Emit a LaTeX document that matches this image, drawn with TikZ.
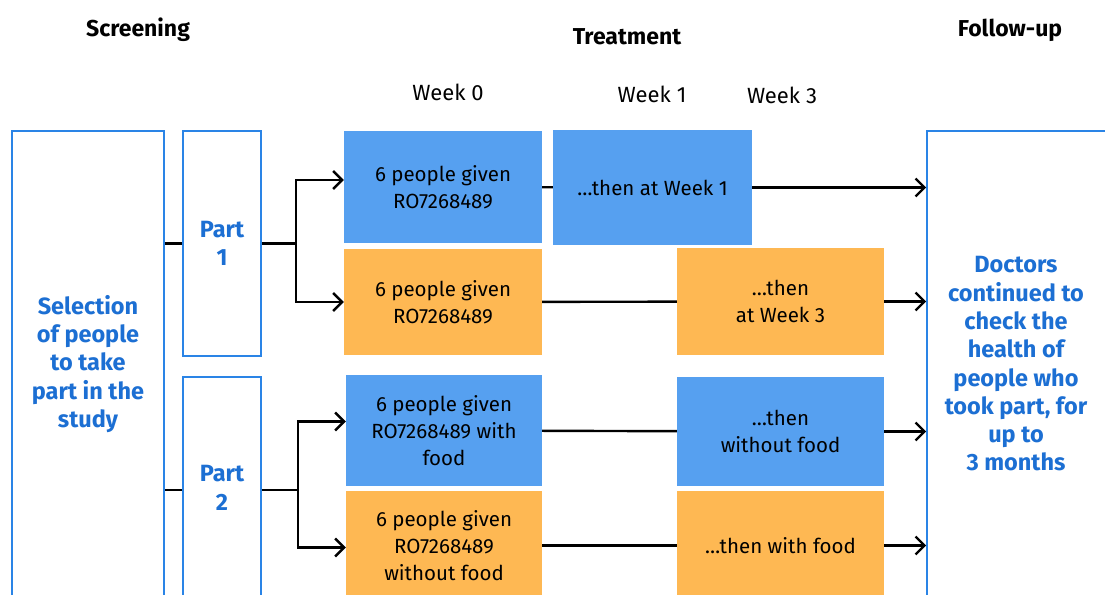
\documentclass[tikz,border=0pt]{standalone}
\usepackage{fontspec}
\setmainfont{Fira Sans}
\usepackage{xcolor}
\usetikzlibrary{arrows.meta}
\definecolor{outline}{HTML}{2A84E6}
\definecolor{bluetext}{HTML}{1C6FD3}
\definecolor{bluefill}{HTML}{56A0F0}
\definecolor{orangefill}{HTML}{FEB853}
\tikzset{
  frame/.style={draw=outline, line width=1.6pt, fill=white, inner sep=0pt},
  bluebox/.style={fill=bluefill, inner sep=0pt, align=center, font=\fontsize{20.5}{27}\selectfont},
  orangebox/.style={fill=orangefill, inner sep=0pt, align=center, font=\fontsize{20.5}{27}\selectfont},
  link/.style={draw=black, line width=2.4pt},
  arr/.style={link, -{Straight Barb[length=9pt,width=18pt]}},
  blbl/.style={text=bluetext, align=center, font=\bfseries\fontsize{23.5}{28.3}\selectfont},
  head/.style={font=\bfseries\fontsize{23}{26}\selectfont},
  week/.style={font=\fontsize{22}{26}\selectfont}
}

\begin{document}
\begin{tikzpicture}[x=1pt, y=-1pt]
  \useasboundingbox (0,0) rectangle (1105,594);
  \clip (0,0) rectangle (1105,594);

  % column heads
  \node[head] (hscr) at (138,30) {Screening};
  \node[head] (htrt) at (627,37) {Treatment};
  \node[head] (hfu)  at (1010,30) {Follow-up};
  \node[week] (w0) at (448,92) {Week 0};
  \node[week] (w1) at (652,94) {Week 1};
  \node[week] (w3) at (782,95) {Week 3};

  % screening and parts
  \node[frame, minimum width=152, minimum height=466] (scr) at (88,364) {};
  \node[blbl] (scrtxt) at (88,364) {Selection\\of people\\to take\\part in the\\study};
  \node[frame, blbl, minimum width=78, minimum height=225] (p1) at (222,243.5) {Part\\1};
  \node[frame, blbl, minimum width=78, minimum height=222] (p2) at (222,488) {Part\\2};

  % treatment boxes
  \node[bluebox, minimum width=198, minimum height=112] (b1) at (443,187) {6 people given\\RO7268489};
  \node[bluebox, minimum width=199, minimum height=115] (b1b) at (652.5,187.5) {\dots then at Week 1};
  \node[orangebox, minimum width=198, minimum height=106] (o1) at (443,302) {6 people given\\RO7268489};
  \node[orangebox, minimum width=207, minimum height=107] (o1b) at (780.5,301.5) {\dots then\\at Week 3};
  \node[bluebox, minimum width=196, minimum height=111] (b2) at (444,430.5) {6 people given\\RO7268489 with\\food};
  \node[bluebox, minimum width=207, minimum height=109] (b2b) at (780.5,431.5) {\dots then\\without food};
  \node[orangebox, minimum width=196, minimum height=109] (o2) at (444,545.5) {6 people given\\RO7268489\\without food};
  \node[orangebox, minimum width=207, minimum height=109] (o2b) at (780.5,545.5) {\dots then with food};

  % follow-up
  \node[frame, minimum width=200, minimum height=466] (fu) at (1027,364) {};
  \node[blbl] (futxt) at (1016,364) {Doctors\\continued to\\check the\\health of\\people who\\took part, for\\up to\\3 months};

  % connectors
  \coordinate (f1) at (296,243.5);
  \coordinate (f2) at (298,490);
  \draw[link] (p1.west -| scr.east) -- (p1.west);
  \draw[link] (p1.east) -- (f1);
  \draw[arr] (f1) |- ([yshift=7pt]b1.west);
  \draw[arr] (f1) |- (o1.west);
  \draw[link] (f2 -| scr.east) -- (f2 -| p2.west);
  \draw[link] (f2 -| p2.east) -- (f2);
  \draw[arr] (f2) |- ([yshift=9pt]b2.west);
  \draw[arr] (f2) |- ([yshift=-2pt]o2.west);

  \draw[link] (b1) -- (b1b);
  \draw[link] (o1) -- (o1b);
  \draw[link] (b2) -- (b2b);
  \draw[link] (o2) -- (o2b);
  \draw[arr] (b1b.east) -- (b1b.east -| fu.west);
  \draw[arr] (o1b.east) -- (o1b.east -| fu.west);
  \draw[arr] (b2b.east) -- (b2b.east -| fu.west);
  \draw[arr] (o2b.east) -- (o2b.east -| fu.west);
\end{tikzpicture}
\end{document}
